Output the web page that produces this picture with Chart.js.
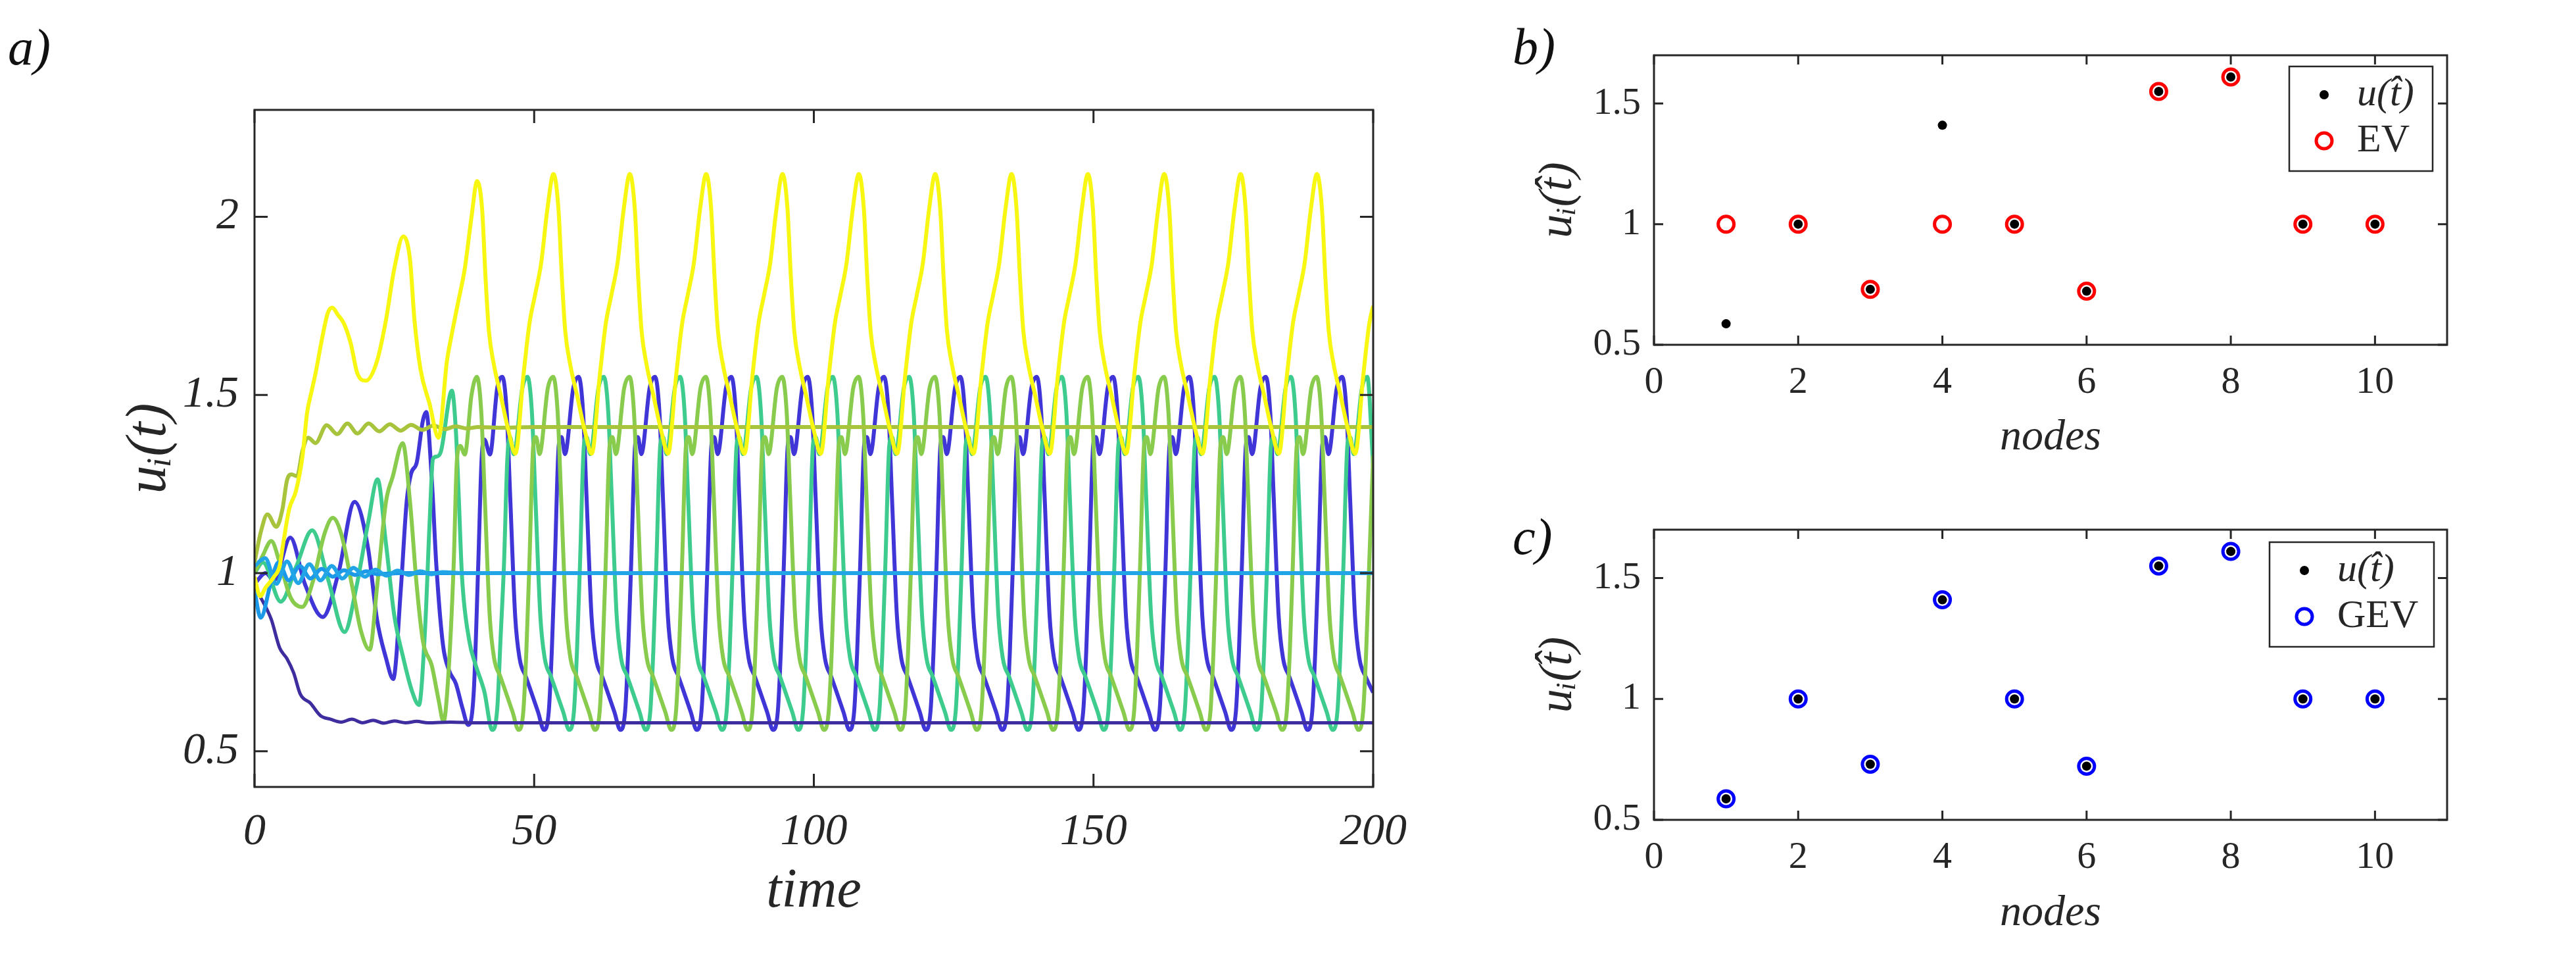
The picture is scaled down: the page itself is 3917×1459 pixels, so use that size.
<!DOCTYPE html>
<html>
<head>
<meta charset="utf-8">
<script src="https://cdn.jsdelivr.net/npm/chart.js@4.4.1/dist/chart.umd.min.js"></script>
<style>
  html, body { margin: 0; padding: 0; background: #fff; }
  body { width: 3917px; height: 1459px; position: relative; overflow: hidden;
         font-family: "Liberation Serif", "DejaVu Serif", serif; }
  .panel { position: absolute; }
  .panel canvas { display: block; }
  .tag { position: absolute; font-style: italic; font-size: 78px; line-height: 1; color: #111; }
</style>
</head>
<body>
<div class="tag" style="left:12px;top:33px">a)</div>
<div class="tag" style="left:2300px;top:32px">b)</div>
<div class="tag" style="left:2300px;top:777px">c)</div>

<div class="panel" style="left:0;top:0"><canvas id="chartA" width="2200" height="1459"></canvas></div>
<div class="panel" style="left:2250px;top:0"><canvas id="chartB" width="1667" height="730"></canvas></div>
<div class="panel" style="left:2250px;top:730px"><canvas id="chartC" width="1667" height="729"></canvas></div>

<script>
// ticks
const timeTicks = [0, 50, 100, 150, 200];
const uTicksA = [0.5, 1, 1.5, 2];
const nodeTicks = [0, 2, 4, 6, 8, 10];
const uTicksBC = [0.5, 1, 1.5];

// panel a: u_i(t), pairs [time, u]
const yellowPts = [
  [0,0.99],[1,0.935],[2,0.96],[3.5,0.99],[4.5,1.02],[5.1,1.08],[6.2,1.18],[7.4,1.23],[8.6,1.33],[9.4,1.45],[10.2,1.51],[10.9,1.56],
  [12.1,1.66],[13.1,1.73],[13.9,1.745],[14.9,1.725],[16,1.70],[17.2,1.645],[18.4,1.56],[19.9,1.54],[21.9,1.595],[23.5,1.71],[25,1.855],
  [26.6,1.945],[27.8,1.88],[28.6,1.71],[29.7,1.57],[31.3,1.475],[32.9,1.38],[34.4,1.595],[35.2,1.665],[36.4,1.76],[37.6,1.855],[38.8,2.0],
  [39.8,2.10],[40.7,2.02],[41.3,1.83],[41.9,1.68],[42.8,1.585],[44.0,1.50],[45.4,1.40],[46.65,1.335],
  [48.05,1.55],[49.15,1.70],[50.15,1.78],[51.25,1.87],[52.35,2.02],[53.45,2.12],[54.35,2.02],[54.95,1.83],[55.55,1.68],[56.45,1.585],[57.65,1.50],[59.05,1.40],[60.3,1.335],
  [61.7,1.55],[62.8,1.70],[63.8,1.78],[64.9,1.87],[66.0,2.02],[67.1,2.12],[68.0,2.02],[68.6,1.83],[69.2,1.68],[70.1,1.585],[71.3,1.50],[72.7,1.40],[73.95,1.335],
  [75.35,1.55],[76.45,1.70],[77.45,1.78],[78.55,1.87],[79.65,2.02],[80.75,2.12],[81.65,2.02],[82.25,1.83],[82.85,1.68],[83.75,1.585],[84.95,1.50],[86.35,1.40],[87.6,1.335],
  [89.0,1.55],[90.1,1.70],[91.1,1.78],[92.2,1.87],[93.3,2.02],[94.4,2.12],[95.3,2.02],[95.9,1.83],[96.5,1.68],[97.4,1.585],[98.6,1.50],[100.0,1.40],[101.25,1.335],
  [102.65,1.55],[103.75,1.70],[104.75,1.78],[105.85,1.87],[106.95,2.02],[108.05,2.12],[108.95,2.02],[109.55,1.83],[110.15,1.68],[111.05,1.585],[112.25,1.50],[113.65,1.40],[114.9,1.335],
  [116.3,1.55],[117.4,1.70],[118.4,1.78],[119.5,1.87],[120.6,2.02],[121.7,2.12],[122.6,2.02],[123.2,1.83],[123.8,1.68],[124.7,1.585],[125.9,1.50],[127.3,1.40],[128.55,1.335],
  [129.95,1.55],[131.05,1.70],[132.05,1.78],[133.15,1.87],[134.25,2.02],[135.35,2.12],[136.25,2.02],[136.85,1.83],[137.45,1.68],[138.35,1.585],[139.55,1.50],[140.95,1.40],[142.2,1.335],
  [143.6,1.55],[144.7,1.70],[145.7,1.78],[146.8,1.87],[147.9,2.02],[149.0,2.12],[149.9,2.02],[150.5,1.83],[151.1,1.68],[152.0,1.585],[153.2,1.50],[154.6,1.40],[155.85,1.335],
  [157.25,1.55],[158.35,1.70],[159.35,1.78],[160.45,1.87],[161.55,2.02],[162.65,2.12],[163.55,2.02],[164.15,1.83],[164.75,1.68],[165.65,1.585],[166.85,1.50],[168.25,1.40],[169.5,1.335],
  [170.9,1.55],[172.0,1.70],[173.0,1.78],[174.1,1.87],[175.2,2.02],[176.3,2.12],[177.2,2.02],[177.8,1.83],[178.4,1.68],[179.3,1.585],[180.5,1.50],[181.9,1.40],[183.15,1.335],
  [184.55,1.55],[185.65,1.70],[186.65,1.78],[187.75,1.87],[188.85,2.02],[189.95,2.12],[190.85,2.02],[191.45,1.83],[192.05,1.68],[192.95,1.585],[194.15,1.50],[195.55,1.40],[196.8,1.335],
  [198.2,1.55],[199.3,1.70],[200,1.75]
];

const limePts = [
  [0,1.03],[1.2,1.12],[2.3,1.165],[3.9,1.13],[5,1.18],[5.8,1.26],[6.6,1.277],[7.6,1.272],[8.6,1.345],[9.6,1.38],[10.9,1.365],
  [12.9,1.415],[14.8,1.39],[16.6,1.42],[18.4,1.392],[20.4,1.42],[22.3,1.398],[24.2,1.418],[26.1,1.40],[28,1.416],[30,1.402],
  [32,1.414],[34,1.404],[36,1.412],[38,1.406],[40,1.41],[44,1.408],[50,1.41],[200,1.41]
];

const lightBlueA = [
  [0,1.02],[1.9,1.042],[3.9,0.97],[5.8,1.033],[7.8,0.972],[9.8,1.025],[11.8,0.98],[13.8,1.02],[15.7,0.985],[17.7,1.015],
  [19.7,0.99],[21.6,1.01],[23.6,0.993],[25.6,1.007],[27.6,0.995],[29.6,1.005],[31.6,0.997],[33.6,1.003],[37,1.0],[200,1.0]
];

const lightBlueB = [
  [0,0.95],[1.1,0.875],[3.1,0.985],[4.3,1.03],[6.1,0.98],[8.1,1.02],[10,0.985],[12,1.012],[14,0.99],[16,1.008],
  [18,0.995],[20,1.005],[22,0.997],[26,1.0],[200,1.0]
];

const darkPts = [
  [0,0.96],[1.5,0.92],[3,0.87],[4.5,0.79],[5.8,0.76],[7,0.72],[8.2,0.66],[10,0.635],[11.8,0.6],[13.6,0.59],[15.5,0.582],
  [17.4,0.59],[19.3,0.58],[21.2,0.587],[23.1,0.579],[25,0.585],[27,0.58],[29,0.584],[31,0.58],[35,0.582],[40,0.58],[200,0.58]
];

const greenPts = [
  [0,1.0],[1.5,1.05],[3.0,1.09],[4.5,1.03],[6.5,0.93],[8.5,0.905],[10.5,0.98],[12.5,1.11],[14.0,1.155],[15.5,1.11],[17.5,0.96],
  [19.0,0.84],[20.6,0.785],[21.9,0.96],[23.5,1.2],[24.7,1.27],[26.5,1.365],[27.8,1.2],[29.0,0.965],[30.1,0.81],[31.7,0.74],
  [32.9,0.645],[33.8,0.583],[34.6,0.7],[35.6,1.02],[36.2,1.32],[36.8,1.357],[37.6,1.333],[38.8,1.5],
  [39.75,1.551],[40.55,1.45],[41.15,1.22],[42.05,0.88],[42.85,0.76],[43.95,0.71],[46.15,0.61],[47.2,0.56],[48.05,0.61],[48.6,0.78],[49.15,1.03],[49.85,1.36],[50.35,1.382],[50.95,1.334],[52.45,1.52],
  [53.4,1.551],[54.2,1.45],[54.8,1.22],[55.7,0.88],[56.5,0.76],[57.6,0.71],[59.8,0.61],[60.85,0.56],[61.7,0.61],[62.25,0.78],[62.8,1.03],[63.5,1.36],[64.0,1.382],[64.6,1.334],[66.1,1.52],
  [67.05,1.551],[67.85,1.45],[68.45,1.22],[69.35,0.88],[70.15,0.76],[71.25,0.71],[73.45,0.61],[74.5,0.56],[75.35,0.61],[75.9,0.78],[76.45,1.03],[77.15,1.36],[77.65,1.382],[78.25,1.334],[79.75,1.52],
  [80.7,1.551],[81.5,1.45],[82.1,1.22],[83.0,0.88],[83.8,0.76],[84.9,0.71],[87.1,0.61],[88.15,0.56],[89.0,0.61],[89.55,0.78],[90.1,1.03],[90.8,1.36],[91.3,1.382],[91.9,1.334],[93.4,1.52],
  [94.35,1.551],[95.15,1.45],[95.75,1.22],[96.65,0.88],[97.45,0.76],[98.55,0.71],[100.75,0.61],[101.8,0.56],[102.65,0.61],[103.2,0.78],[103.75,1.03],[104.45,1.36],[104.95,1.382],[105.55,1.334],[107.05,1.52],
  [108.0,1.551],[108.8,1.45],[109.4,1.22],[110.3,0.88],[111.1,0.76],[112.2,0.71],[114.4,0.61],[115.45,0.56],[116.3,0.61],[116.85,0.78],[117.4,1.03],[118.1,1.36],[118.6,1.382],[119.2,1.334],[120.7,1.52],
  [121.65,1.551],[122.45,1.45],[123.05,1.22],[123.95,0.88],[124.75,0.76],[125.85,0.71],[128.05,0.61],[129.1,0.56],[129.95,0.61],[130.5,0.78],[131.05,1.03],[131.75,1.36],[132.25,1.382],[132.85,1.334],[134.35,1.52],
  [135.3,1.551],[136.1,1.45],[136.7,1.22],[137.6,0.88],[138.4,0.76],[139.5,0.71],[141.7,0.61],[142.75,0.56],[143.6,0.61],[144.15,0.78],[144.7,1.03],[145.4,1.36],[145.9,1.382],[146.5,1.334],[148.0,1.52],
  [148.95,1.551],[149.75,1.45],[150.35,1.22],[151.25,0.88],[152.05,0.76],[153.15,0.71],[155.35,0.61],[156.4,0.56],[157.25,0.61],[157.8,0.78],[158.35,1.03],[159.05,1.36],[159.55,1.382],[160.15,1.334],[161.65,1.52],
  [162.6,1.551],[163.4,1.45],[164.0,1.22],[164.9,0.88],[165.7,0.76],[166.8,0.71],[169.0,0.61],[170.05,0.56],[170.9,0.61],[171.45,0.78],[172.0,1.03],[172.7,1.36],[173.2,1.382],[173.8,1.334],[175.3,1.52],
  [176.25,1.551],[177.05,1.45],[177.65,1.22],[178.55,0.88],[179.35,0.76],[180.45,0.71],[182.65,0.61],[183.7,0.56],[184.55,0.61],[185.1,0.78],[185.65,1.03],[186.35,1.36],[186.85,1.382],[187.45,1.334],[188.95,1.52],
  [189.9,1.551],[190.7,1.45],[191.3,1.22],[192.2,0.88],[193.0,0.76],[194.1,0.71],[196.3,0.61],[197.35,0.56],[198.2,0.61],[198.75,0.78],[199.3,1.03],[200,1.33]
];

const tealPts = [
  [0,1.0],[1.5,1.03],[4.7,0.92],[7.5,1.02],[10.3,1.12],[13.2,0.98],[16.1,0.835],[18.2,0.96],[20.3,1.14],[22.0,1.263],[23.5,1.083],
  [25.0,0.88],[26.6,0.762],[28.2,0.667],[29.4,0.63],[30.5,0.845],[31.3,1.14],[31.9,1.32],[32.5,1.327],[33.3,1.34],[35.3,1.512],
  [36.0,1.40],[36.5,1.22],[37.1,0.99],[38.4,0.81],[39.5,0.744],[41.1,0.667],[42.5,0.56],[43.4,0.62],[44.0,0.82],[44.6,1.024],
  [45.2,1.32],[45.7,1.382],[46.35,1.334],[47.9,1.52],
  [48.8,1.551],[49.6,1.45],[50.2,1.22],[51.1,0.88],[51.9,0.76],[53.0,0.71],[55.2,0.61],[56.25,0.56],[57.1,0.61],[57.65,0.78],[58.2,1.03],[58.9,1.36],[59.4,1.382],[60.0,1.334],[61.5,1.52],
  [62.45,1.551],[63.25,1.45],[63.85,1.22],[64.75,0.88],[65.55,0.76],[66.65,0.71],[68.85,0.61],[69.9,0.56],[70.75,0.61],[71.3,0.78],[71.85,1.03],[72.55,1.36],[73.05,1.382],[73.65,1.334],[75.15,1.52],
  [76.1,1.551],[76.9,1.45],[77.5,1.22],[78.4,0.88],[79.2,0.76],[80.3,0.71],[82.5,0.61],[83.55,0.56],[84.4,0.61],[84.95,0.78],[85.5,1.03],[86.2,1.36],[86.7,1.382],[87.3,1.334],[88.8,1.52],
  [89.75,1.551],[90.55,1.45],[91.15,1.22],[92.05,0.88],[92.85,0.76],[93.95,0.71],[96.15,0.61],[97.2,0.56],[98.05,0.61],[98.6,0.78],[99.15,1.03],[99.85,1.36],[100.35,1.382],[100.95,1.334],[102.45,1.52],
  [103.4,1.551],[104.2,1.45],[104.8,1.22],[105.7,0.88],[106.5,0.76],[107.6,0.71],[109.8,0.61],[110.85,0.56],[111.7,0.61],[112.25,0.78],[112.8,1.03],[113.5,1.36],[114.0,1.382],[114.6,1.334],[116.1,1.52],
  [117.05,1.551],[117.85,1.45],[118.45,1.22],[119.35,0.88],[120.15,0.76],[121.25,0.71],[123.45,0.61],[124.5,0.56],[125.35,0.61],[125.9,0.78],[126.45,1.03],[127.15,1.36],[127.65,1.382],[128.25,1.334],[129.75,1.52],
  [130.7,1.551],[131.5,1.45],[132.1,1.22],[133.0,0.88],[133.8,0.76],[134.9,0.71],[137.1,0.61],[138.15,0.56],[139.0,0.61],[139.55,0.78],[140.1,1.03],[140.8,1.36],[141.3,1.382],[141.9,1.334],[143.4,1.52],
  [144.35,1.551],[145.15,1.45],[145.75,1.22],[146.65,0.88],[147.45,0.76],[148.55,0.71],[150.75,0.61],[151.8,0.56],[152.65,0.61],[153.2,0.78],[153.75,1.03],[154.45,1.36],[154.95,1.382],[155.55,1.334],[157.05,1.52],
  [158.0,1.551],[158.8,1.45],[159.4,1.22],[160.3,0.88],[161.1,0.76],[162.2,0.71],[164.4,0.61],[165.45,0.56],[166.3,0.61],[166.85,0.78],[167.4,1.03],[168.1,1.36],[168.6,1.382],[169.2,1.334],[170.7,1.52],
  [171.65,1.551],[172.45,1.45],[173.05,1.22],[173.95,0.88],[174.75,0.76],[175.85,0.71],[178.05,0.61],[179.1,0.56],[179.95,0.61],[180.5,0.78],[181.05,1.03],[181.75,1.36],[182.25,1.382],[182.85,1.334],[184.35,1.52],
  [185.3,1.551],[186.1,1.45],[186.7,1.22],[187.6,0.88],[188.4,0.76],[189.5,0.71],[191.7,0.61],[192.75,0.56],[193.6,0.61],[194.15,0.78],[194.7,1.03],[195.4,1.36],[195.9,1.382],[196.5,1.334],[198.0,1.52],
  [198.95,1.551],[200,1.3]
];

const bluePts = [
  [0,0.97],[2,1.0],[3.5,0.98],[6.4,1.10],[9,0.97],[12.2,0.877],[15,1.0],[17.9,1.2],[20.3,1.07],[21.9,0.87],[23.5,0.762],
  [24.8,0.703],[26.2,0.964],[27.2,1.2],[28,1.28],[29,1.31],[30.1,1.428],[30.7,1.452],[31.7,1.262],[32.5,1.024],[33.7,0.798],
  [34.8,0.726],[36,0.69],[37.2,0.62],[38.2,0.574],[39.2,0.667],[40,1.024],[40.6,1.32],[41.1,1.375],[42.1,1.333],[43.4,1.52],
  [44.3,1.551],[45.1,1.45],[45.7,1.22],[46.6,0.88],[47.4,0.76],[48.5,0.71],[50.7,0.61],[51.75,0.56],[52.6,0.61],[53.15,0.78],[53.7,1.03],[54.4,1.36],[54.9,1.382],[55.5,1.334],[57.0,1.52],
  [57.95,1.551],[58.75,1.45],[59.35,1.22],[60.25,0.88],[61.05,0.76],[62.15,0.71],[64.35,0.61],[65.4,0.56],[66.25,0.61],[66.8,0.78],[67.35,1.03],[68.05,1.36],[68.55,1.382],[69.15,1.334],[70.65,1.52],
  [71.6,1.551],[72.4,1.45],[73.0,1.22],[73.9,0.88],[74.7,0.76],[75.8,0.71],[78.0,0.61],[79.05,0.56],[79.9,0.61],[80.45,0.78],[81.0,1.03],[81.7,1.36],[82.2,1.382],[82.8,1.334],[84.3,1.52],
  [85.25,1.551],[86.05,1.45],[86.65,1.22],[87.55,0.88],[88.35,0.76],[89.45,0.71],[91.65,0.61],[92.7,0.56],[93.55,0.61],[94.1,0.78],[94.65,1.03],[95.35,1.36],[95.85,1.382],[96.45,1.334],[97.95,1.52],
  [98.9,1.551],[99.7,1.45],[100.3,1.22],[101.2,0.88],[102.0,0.76],[103.1,0.71],[105.3,0.61],[106.35,0.56],[107.2,0.61],[107.75,0.78],[108.3,1.03],[109.0,1.36],[109.5,1.382],[110.1,1.334],[111.6,1.52],
  [112.55,1.551],[113.35,1.45],[113.95,1.22],[114.85,0.88],[115.65,0.76],[116.75,0.71],[118.95,0.61],[120.0,0.56],[120.85,0.61],[121.4,0.78],[121.95,1.03],[122.65,1.36],[123.15,1.382],[123.75,1.334],[125.25,1.52],
  [126.2,1.551],[127.0,1.45],[127.6,1.22],[128.5,0.88],[129.3,0.76],[130.4,0.71],[132.6,0.61],[133.65,0.56],[134.5,0.61],[135.05,0.78],[135.6,1.03],[136.3,1.36],[136.8,1.382],[137.4,1.334],[138.9,1.52],
  [139.85,1.551],[140.65,1.45],[141.25,1.22],[142.15,0.88],[142.95,0.76],[144.05,0.71],[146.25,0.61],[147.3,0.56],[148.15,0.61],[148.7,0.78],[149.25,1.03],[149.95,1.36],[150.45,1.382],[151.05,1.334],[152.55,1.52],
  [153.5,1.551],[154.3,1.45],[154.9,1.22],[155.8,0.88],[156.6,0.76],[157.7,0.71],[159.9,0.61],[160.95,0.56],[161.8,0.61],[162.35,0.78],[162.9,1.03],[163.6,1.36],[164.1,1.382],[164.7,1.334],[166.2,1.52],
  [167.15,1.551],[167.95,1.45],[168.55,1.22],[169.45,0.88],[170.25,0.76],[171.35,0.71],[173.55,0.61],[174.6,0.56],[175.45,0.61],[176.0,0.78],[176.55,1.03],[177.25,1.36],[177.75,1.382],[178.35,1.334],[179.85,1.52],
  [180.8,1.551],[181.6,1.45],[182.2,1.22],[183.1,0.88],[183.9,0.76],[185.0,0.71],[187.2,0.61],[188.25,0.56],[189.1,0.61],[189.65,0.78],[190.2,1.03],[190.9,1.36],[191.4,1.382],[192.0,1.334],[193.5,1.52],
  [194.45,1.551],[195.25,1.45],[195.85,1.22],[196.75,0.88],[197.55,0.76],[198.65,0.71],[200,0.665]
];

// panels b, c
const nodes = [1, 2, 3, 4, 5, 6, 7, 8, 9, 10];
const uHat = [0.587, 1.0, 0.73, 1.41, 1.0, 0.722, 1.55, 1.61, 1.0, 1.0];
const evVals = [1.0, 1.0, 0.73, 1.0, 1.0, 0.722, 1.55, 1.61, 1.0, 1.0];
const gevVals = [0.587, 1.0, 0.73, 1.41, 1.0, 0.722, 1.55, 1.61, 1.0, 1.0];

const ink = '#262626';
const serif = '"Liberation Serif", "DejaVu Serif", serif';
Chart.defaults.font.family = serif;
Chart.defaults.color = ink;

// box round the axes + inward ticks on all four sides (matlab style)
const boxTicks = {
  id: 'boxTicks',
  afterDraw(chart, args, o) {
    const { ctx, chartArea: a, scales } = chart;
    ctx.save();
    ctx.strokeStyle = ink;
    ctx.lineWidth = o.width;
    ctx.beginPath();
    scales.x.ticks.forEach(t => {
      const px = scales.x.getPixelForValue(t.value);
      ctx.moveTo(px, a.bottom); ctx.lineTo(px, a.bottom - o.len);
      ctx.moveTo(px, a.top); ctx.lineTo(px, a.top + o.len);
    });
    scales.y.ticks.forEach(t => {
      const py = scales.y.getPixelForValue(t.value);
      ctx.moveTo(a.left, py); ctx.lineTo(a.left + o.len, py);
      ctx.moveTo(a.right, py); ctx.lineTo(a.right - o.len, py);
    });
    ctx.stroke();
    ctx.strokeRect(a.left, a.top, a.right - a.left, a.bottom - a.top);
    ctx.restore();
  }
};

// legend inside the axes, top right, with a frame
const boxLegend = {
  id: 'boxLegend',
  afterDraw(chart, args, o) {
    const { ctx, chartArea: a } = chart;
    const x0 = a.right - o.dx - o.w, y0 = a.top + o.dy;
    ctx.save();
    ctx.fillStyle = '#fff';
    ctx.fillRect(x0, y0, o.w, o.h);
    ctx.strokeStyle = ink;
    ctx.lineWidth = 2.5;
    ctx.strokeRect(x0, y0, o.w, o.h);
    chart.data.datasets.forEach((ds, i) => {
      const cx = x0 + 53, cy = y0 + 43 + i * 70;
      ctx.beginPath();
      ctx.arc(cx, cy, ds.pointRadius, 0, Math.PI * 2);
      if (ds.pointBorderWidth > 0) {
        ctx.lineWidth = ds.pointBorderWidth;
        ctx.strokeStyle = ds.pointBorderColor;
        ctx.stroke();
      } else {
        ctx.fillStyle = ds.pointBackgroundColor;
        ctx.fill();
      }
      ctx.fillStyle = ink;
      ctx.font = (ds.italicLabel ? 'italic ' : '') + '60px ' + serif;
      ctx.textAlign = 'left';
      ctx.textBaseline = 'middle';
      ctx.fillText(ds.label, x0 + 103, cy);
    });
    ctx.restore();
  }
};

function toXY(pts) { return pts.map(p => ({ x: p[0], y: p[1] })); }
function line(label, pts, color, w) {
  return { label, data: toXY(pts), borderColor: color, borderWidth: w, pointRadius: 0,
           fill: false, cubicInterpolationMode: 'monotone' };
}

// panel a
new Chart(document.getElementById('chartA'), {
  type: 'line',
  data: {
    datasets: [
      line('yellow', yellowPts, '#F7F711', 6),
      line('lime', limePts, '#A8C33C', 6),
      line('light blue a', lightBlueA, '#22A5E6', 6),
      line('light blue b', lightBlueB, '#1C98E8', 6),
      line('dark', darkPts, '#3E2D9E', 5),
      line('green', greenPts, '#88CB4D', 6),
      line('teal', tealPts, '#3ECB8E', 6),
      line('blue', bluePts, '#4036D8', 6)
    ]
  },
  options: {
    responsive: false,
    animation: false,
    layout: { padding: { left: 177, top: 167, right: 112, bottom: 53 } },
    plugins: {
      legend: { display: false },
      tooltip: { enabled: false },
      boxTicks: { len: 20, width: 3 }
    },
    scales: {
      x: {
        type: 'linear', min: 0, max: 200,
        afterBuildTicks: s => { s.ticks = timeTicks.map(v => ({ value: v })); },
        ticks: { font: { size: 68, style: 'italic' }, padding: 28, maxRotation: 0, autoSkip: false,
                 callback: v => String(v) },
        grid: { display: false, drawTicks: false },
        border: { display: false },
        title: { display: true, text: 'time', font: { size: 84, style: 'italic' }, padding: 0 },
        afterFit: s => { s.height = 210; }
      },
      y: {
        type: 'linear', min: 0.4, max: 2.3,
        afterBuildTicks: s => { s.ticks = uTicksA.map(v => ({ value: v })); },
        ticks: { font: { size: 68, style: 'italic' }, padding: 24, autoSkip: false,
                 callback: v => String(v) },
        grid: { display: false, drawTicks: false },
        border: { display: false },
        title: { display: true, text: 'uᵢ(t)', font: { size: 86, style: 'italic' }, padding: 0 },
        afterFit: s => { s.width = 210; }
      }
    }
  },
  plugins: [boxTicks]
});

function nodeChart(id, ringLabel, ringVals, ringColor, pad, xH, legend) {
  return new Chart(document.getElementById(id), {
    type: 'scatter',
    data: {
      datasets: [
        { label: 'u(t̂)', italicLabel: true, data: nodes.map((n, i) => ({ x: n, y: uHat[i] })),
          pointRadius: 7, pointBorderWidth: 0, pointBackgroundColor: '#000', pointBorderColor: '#000' },
        { label: ringLabel, data: nodes.map((n, i) => ({ x: n, y: ringVals[i] })),
          pointRadius: 12, pointBorderWidth: 5, pointBorderColor: ringColor, pointBackgroundColor: 'rgba(0,0,0,0)' }
      ]
    },
    options: {
      responsive: false,
      animation: false,
      layout: { padding: pad },
      plugins: {
        legend: { display: false },
        tooltip: { enabled: false },
        boxTicks: { len: 14, width: 3 },
        boxLegend: legend
      },
      scales: {
        x: {
          type: 'linear', min: 0, max: 11,
          afterBuildTicks: s => { s.ticks = nodeTicks.map(v => ({ value: v })); },
          ticks: { font: { size: 58 }, padding: 23, maxRotation: 0, autoSkip: false, callback: v => String(v) },
          grid: { display: false, drawTicks: false },
          border: { display: false },
          title: { display: true, text: 'nodes', font: { size: 66, style: 'italic' }, padding: 0 },
          afterFit: s => { s.height = xH; }
        },
        y: {
          type: 'linear', min: 0.5, max: 1.7,
          afterBuildTicks: s => { s.ticks = uTicksBC.map(v => ({ value: v })); },
          ticks: { font: { size: 58 }, padding: 20, autoSkip: false, callback: v => String(v) },
          grid: { display: false, drawTicks: false },
          border: { display: false },
          title: { display: true, text: 'uᵢ(t̂)', font: { size: 72, style: 'italic' }, padding: 0 },
          afterFit: s => { s.width = 188; }
        }
      }
    },
    plugins: [boxTicks, boxLegend]
  });
}

nodeChart('chartB', 'EV', evVals, '#FF0000',
  { left: 77, top: 84, right: 196, bottom: 25 }, 181, { dx: 22, dy: 17, w: 218, h: 159 });
nodeChart('chartC', 'GEV', gevVals, '#0000FF',
  { left: 77, top: 75, right: 196, bottom: 31 }, 182, { dx: 20, dy: 19, w: 250, h: 159 });
</script>
</body>
</html>
